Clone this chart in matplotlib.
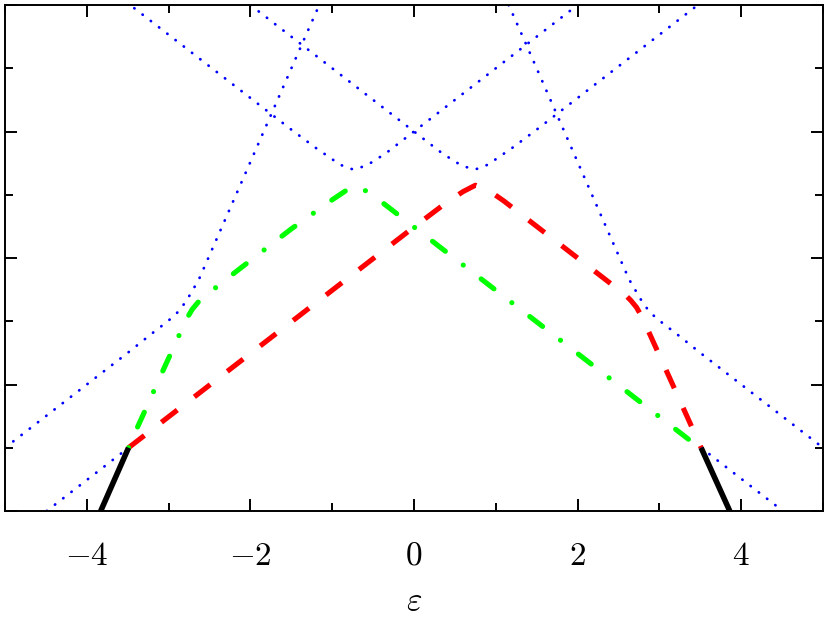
import matplotlib.pyplot as plt
from matplotlib.ticker import MultipleLocator, FixedLocator

plt.rcParams['mathtext.fontset'] = 'cm'

# blue dotted branches
blue_a_x = [-3.52, -3.0, -2.5, -2.0, -1.5, -1.2, -1.02, -0.91, -0.80, -0.74, -0.68, -0.57, -0.46, -0.35, -0.2, 0.0, 0.5, 1.0, 1.5, 2.0]
blue_a_y = [8.05, 7.53, 7.03, 6.53, 6.03, 5.74, 5.58, 5.48, 5.42, 5.40, 5.42, 5.47, 5.56, 5.65, 5.80, 6.0, 6.5, 7.0, 7.5, 8.0]

blue_b_x = [-2.0, -1.5, -1.0, -0.5, 0.0, 0.2, 0.35, 0.46, 0.57, 0.68, 0.74, 0.80, 0.91, 1.02, 1.2, 1.5, 2.0, 2.5, 3.0, 3.52]
blue_b_y = [8.0, 7.5, 7.0, 6.5, 6.0, 5.80, 5.65, 5.56, 5.47, 5.42, 5.40, 5.42, 5.48, 5.58, 5.74, 6.03, 6.53, 7.03, 7.53, 8.05]

blue_c_x = [-5.0, -4.5, -4.0, -3.5, -3.22, -3.02, -2.92, -2.85, -2.77, -2.63, -2.44, -2.24, -2.03, -1.79, -1.57, -1.36, -1.175, -1.155]
blue_c_y = [1.0, 1.5, 2.0, 2.5, 2.79, 2.99, 3.10, 3.20, 3.35, 3.66, 4.22, 4.81, 5.43, 6.14, 6.79, 7.41, 7.95, 8.0]

blue_e_x = [1.155, 1.175, 1.36, 1.57, 1.79, 2.03, 2.24, 2.44, 2.63, 2.77, 2.85, 2.92, 3.02, 3.22, 3.5, 4.0, 4.5, 5.0]
blue_e_y = [8.0, 7.95, 7.41, 6.79, 6.14, 5.43, 4.81, 4.22, 3.66, 3.35, 3.20, 3.10, 2.99, 2.79, 2.5, 2.0, 1.5, 1.0]

blue_d_x = [-4.49, -4.0, -3.49]
blue_d_y = [0.0, 0.49, 1.0]

blue_f_x = [3.51, 4.0, 4.51]
blue_f_y = [1.0, 0.51, 0.0]

# solid black segments
black_l_x = [-3.83, -3.49]
black_l_y = [0.0, 1.0]
black_r_x = [3.51, 3.86]
black_r_y = [1.0, 0.0]

# red dashed
red_x = [-3.49, -3.0, -2.0, -1.0, 0.0, 0.4, 0.6, 0.75, 0.9, 1.1, 1.5, 2.0, 2.46, 2.58, 2.65, 2.72, 2.79, 2.93, 3.13, 3.35, 3.51]
red_y = [1.0, 1.49, 2.49, 3.49, 4.49, 4.88, 5.05, 5.15, 5.08, 4.90, 4.50, 4.00, 3.54, 3.42, 3.33, 3.22, 3.06, 2.66, 2.09, 1.46, 1.0]

# green dash-dot
green_x = [-3.49, -3.40, -3.28, -3.09, -2.97, -2.85, -2.77, -2.71, -2.62, -2.3, -2.0, -1.5, -1.0, -0.85, -0.74, -0.6, -0.4, 0.0, 1.0, 2.0, 3.0, 3.49]
green_y = [1.0, 1.27, 1.61, 2.16, 2.50, 2.84, 3.06, 3.19, 3.33, 3.66, 3.96, 4.46, 4.92, 5.05, 5.14, 5.07, 4.89, 4.49, 3.49, 2.49, 1.49, 1.0]

xtick_values = [-4, -2, 0, 2, 4]
xtick_labels = ['$-4$', '$-2$', '$0$', '$2$', '$4$']

fig = plt.figure(figsize=(8.29, 6.18), dpi=100)
ax = fig.add_axes([5 / 829, 1 - 511 / 618, 818 / 829, 506 / 618])

dotted = dict(color='#0000ff', lw=2.0, linestyle=(0, (0.1, 3.65)), dash_capstyle='round', zorder=1)
for bx, by in [(blue_a_x, blue_a_y), (blue_b_x, blue_b_y), (blue_c_x, blue_c_y),
               (blue_e_x, blue_e_y), (blue_d_x, blue_d_y), (blue_f_x, blue_f_y)]:
    ax.plot(bx, by, **dotted)

ax.plot(red_x, red_y, color='#ff0000', lw=3.7, linestyle=(0, (3.9, 4.2)),
        dash_capstyle='butt', zorder=2)
ax.plot(green_x, green_y, color='#00ff00', lw=3.7, linestyle=(7.55, (3.15, 4.4, 0.01, 4.4)),
        dash_capstyle='round', zorder=3)
ax.plot(black_l_x, black_l_y, color='black', lw=4, solid_capstyle='butt', zorder=4)
ax.plot(black_r_x, black_r_y, color='black', lw=4, solid_capstyle='butt', zorder=4)

ax.set_xlim(-5, 5)
ax.set_ylim(0, 8)
ax.xaxis.set_major_locator(FixedLocator(xtick_values))
ax.set_xticklabels(xtick_labels)
ax.xaxis.set_minor_locator(MultipleLocator(1))
ax.yaxis.set_major_locator(MultipleLocator(2))
ax.yaxis.set_minor_locator(MultipleLocator(1))
ax.tick_params(which='both', direction='in', top=True, right=True, width=1.4,
               labelleft=False, labelsize=24)
ax.tick_params(which='major', length=8.6, pad=20)
ax.tick_params(which='minor', length=5.8)
for s in ax.spines.values():
    s.set_linewidth(1.4)

ax.set_xlabel(r'$\varepsilon$', fontsize=24, labelpad=9)

fig.savefig('out.png', dpi=100)
